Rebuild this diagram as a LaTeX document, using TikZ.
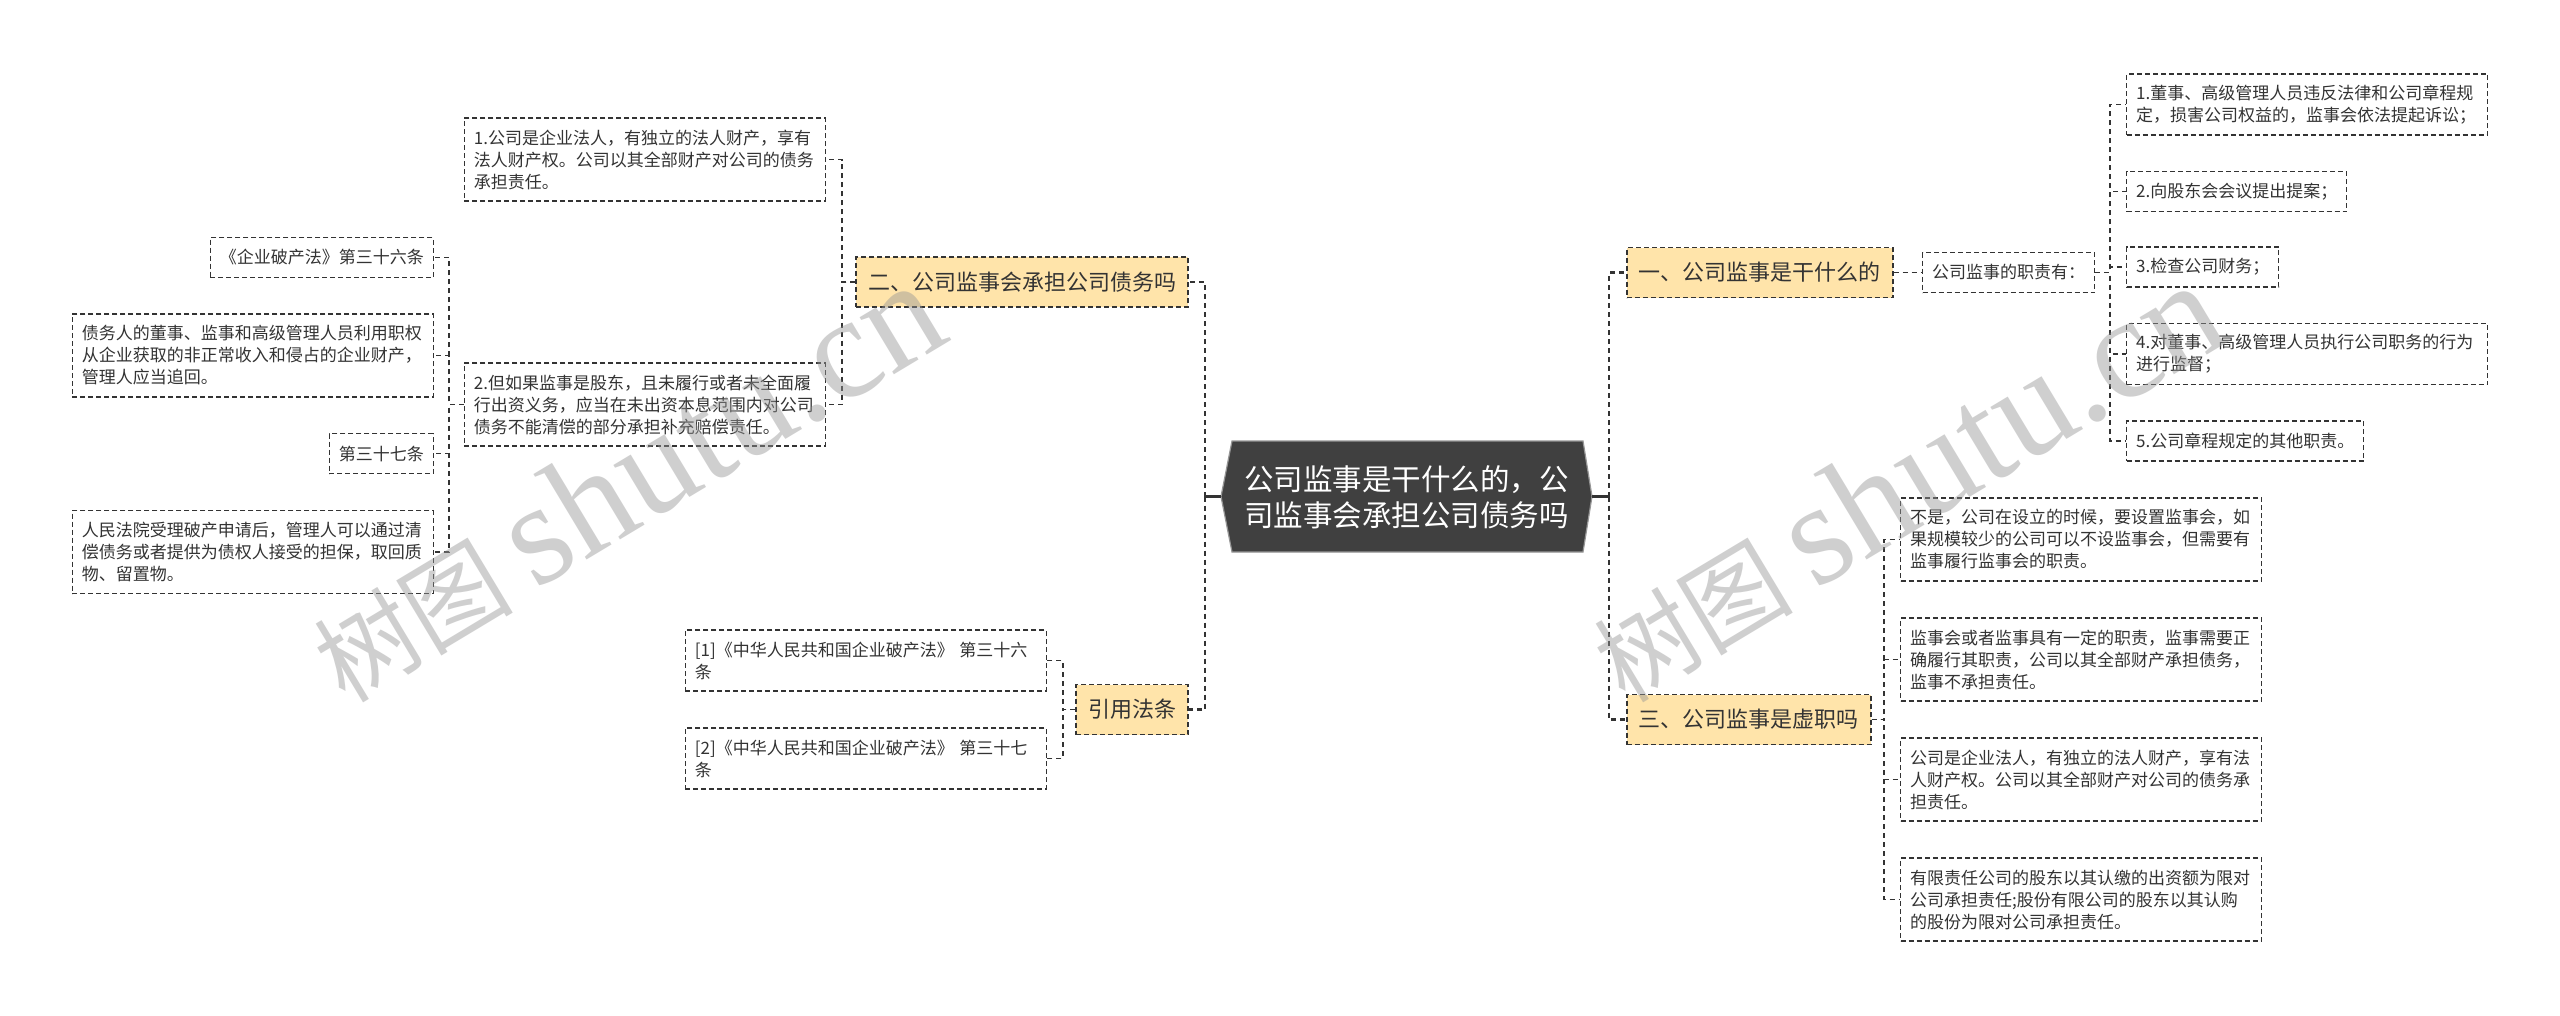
\documentclass[tikz,border=0pt]{standalone}
\usepackage{fontspec}
\setmainfont{Noto Sans CJK SC}
\newfontfamily\wmserif{Liberation Serif}
\usetikzlibrary{calc}
\definecolor{branchfill}{RGB}{255,228,170}
\definecolor{linec}{RGB}{51,51,51}
\definecolor{txt}{RGB}{51,51,51}
\definecolor{rootfill}{RGB}{64,64,64}
\definecolor{rootedge}{RGB}{150,150,150}
\definecolor{wmc}{RGB}{150,150,150}
\begin{document}
\begin{tikzpicture}[x=1pt,y=-1pt,
 leaf/.style={draw=linec, line width=1.3pt, dash pattern=on 5pt off 3pt, fill=white, text=txt,
   font=\fontsize{17}{22}\selectfont, inner xsep=9.5pt, inner ysep=0pt, align=left, minimum height=40pt},
 wide/.style={leaf, text width=342pt},
 branch/.style={draw=linec, line width=1.6pt, dash pattern=on 5pt off 3pt, fill=branchfill, text=txt,
   font=\fontsize{22}{26}\selectfont, inner xsep=12pt, inner ysep=0pt, minimum height=50pt},
 conn/.style={draw=linec, line width=1.3pt, dash pattern=on 5pt off 4pt},
 mainconn/.style={draw=linec, line width=2.4pt, dash pattern=on 5pt off 4pt},
 stub/.style={draw=linec, line width=2.4pt},
 wmark/.style={rotate=31, anchor=base west, text=wmc, text opacity=0.45, inner sep=0pt}
]
\useasboundingbox (0,0) rectangle (2560,1015);
\fill[white] (0,0) rectangle (2560,1015);

% verticals
\coordinate (vL0) at (1205,0);
\coordinate (vL1) at (842,0);
\coordinate (vL2) at (449,0);
\coordinate (vL3) at (1063,0);
\coordinate (vR0) at (1609,0);
\coordinate (vR1) at (2110,0);
\coordinate (vR2) at (1884,0);

% root
\path[fill=rootfill, draw=rootedge, line width=1.2pt] (1221,496.5) -- (1232,441) -- (1583,441) -- (1592,496.5) -- (1583,552) -- (1232,552) -- cycle;
\node[text=white, font=\fontsize{29.5}{36}\selectfont, align=center, inner sep=0pt] (root) at (1406.5,497) {公司监事是干什么的，公\\司监事会承担公司债务吗};
\coordinate (rootL) at (1221,496.5);
\coordinate (rootR) at (1592,496.5);

% left branches
\node[branch, anchor=east] (b2) at (1189,282) {二、公司监事会承担公司债务吗};
\node[branch, anchor=east] (bref) at (1189,709.5) {引用法条};

\node[wide, anchor=east, minimum height=83pt] (l1) at (826,159.5) {1.公司是企业法人，有独立的法人财产，享有\\法人财产权。公司以其全部财产对公司的债务\\承担责任。};
\node[wide, anchor=east, minimum height=83pt] (l2) at (826,404.5) {2.但如果监事是股东，且未履行或者未全面履\\行出资义务，应当在未出资本息范围内对公司\\债务不能清偿的部分承担补充赔偿责任。};

\node[leaf, anchor=east] (a36) at (434,257.5) {《企业破产法》第三十六条};
\node[wide, anchor=east, minimum height=83pt] (a36t) at (434,355.5) {债务人的董事、监事和高级管理人员利用职权\\从企业获取的非正常收入和侵占的企业财产，\\管理人应当追回。};
\node[leaf, anchor=east] (a37) at (434,453.5) {第三十七条};
\node[wide, anchor=east, minimum height=83pt] (a37t) at (434,552) {人民法院受理破产申请后，管理人可以通过清\\偿债务或者提供为债权人接受的担保，取回质\\物、留置物。};

\node[wide, anchor=east, minimum height=61pt] (r1) at (1047,660.5) {[1]《中华人民共和国企业破产法》 第三十六\\条};
\node[wide, anchor=east, minimum height=61pt] (r2) at (1047,758.5) {[2]《中华人民共和国企业破产法》 第三十七\\条};

% right branches
\node[branch, anchor=west] (b1) at (1626,272.5) {一、公司监事是干什么的};
\node[branch, anchor=west] (b3) at (1626,719.5) {三、公司监事是虚职吗};

\node[leaf, anchor=west] (duty) at (1922,272.5) {公司监事的职责有：};
\node[wide, anchor=west, minimum height=61pt] (d1) at (2126,104.5) {1.董事、高级管理人员违反法律和公司章程规\\定，损害公司权益的，监事会依法提起诉讼；};
\node[leaf, anchor=west] (d2) at (2126,191.5) {2.向股东会会议提出提案；};
\node[leaf, anchor=west] (d3) at (2126,267) {3.检查公司财务；};
\node[wide, anchor=west, minimum height=61pt] (d4) at (2126,354) {4.对董事、高级管理人员执行公司职务的行为\\进行监督；};
\node[leaf, anchor=west] (d5) at (2126,441) {5.公司章程规定的其他职责。};

\node[wide, anchor=west, minimum height=83pt] (x1) at (1900,539.5) {不是，公司在设立的时候，要设置监事会，如\\果规模较少的公司可以不设监事会，但需要有\\监事履行监事会的职责。};
\node[wide, anchor=west, minimum height=83pt] (x2) at (1900,659.5) {监事会或者监事具有一定的职责，监事需要正\\确履行其职责，公司以其全部财产承担债务，\\监事不承担责任。};
\node[wide, anchor=west, minimum height=83pt] (x3) at (1900,779.5) {公司是企业法人，有独立的法人财产，享有法\\人财产权。公司以其全部财产对公司的债务承\\担责任。};
\node[wide, anchor=west, minimum height=83pt] (x4) at (1900,899.5) {有限责任公司的股东以其认缴的出资额为限对\\公司承担责任;股份有限公司的股东以其认购\\的股份为限对公司承担责任。};

% main connectors
\draw[stub] (rootL) -- (rootL -| vL0);
\draw[mainconn] (rootL -| vL0) |- (b2.east);
\draw[mainconn] (rootL -| vL0) |- (bref.east);
\draw[stub] (rootR) -- (rootR -| vR0);
\draw[mainconn] (rootR -| vR0) |- (b1.west);
\draw[mainconn] (rootR -| vR0) |- (b3.west);

% leaf connectors
\foreach \c in {l1,l2} \draw[conn] (b2.west) -- (b2.west -| vL1) |- (\c.east);
\foreach \c in {a36,a36t,a37,a37t} \draw[conn] (l2.west) -- (l2.west -| vL2) |- (\c.east);
\foreach \c in {r1,r2} \draw[conn] (bref.west) -- (bref.west -| vL3) |- (\c.east);
\draw[conn] (b1.east) -- (duty.west);
\foreach \c in {d1,d2,d3,d4,d5} \draw[conn] (duty.east) -- (duty.east -| vR1) |- (\c.west);
\foreach \c in {x1,x2,x3,x4} \draw[conn] (b3.east) -- (b3.east -| vR2) |- (\c.west);

% watermarks
\node[wmark] (wm1) at (345,705) {\fontsize{100}{100}\selectfont 树图 {\wmserif\fontsize{145}{145}\selectfont shutu.cn}};
\node[wmark] (wm2) at (1625,705) {\fontsize{100}{100}\selectfont 树图 {\wmserif\fontsize{145}{145}\selectfont shutu.cn}};
\end{tikzpicture}
\end{document}
